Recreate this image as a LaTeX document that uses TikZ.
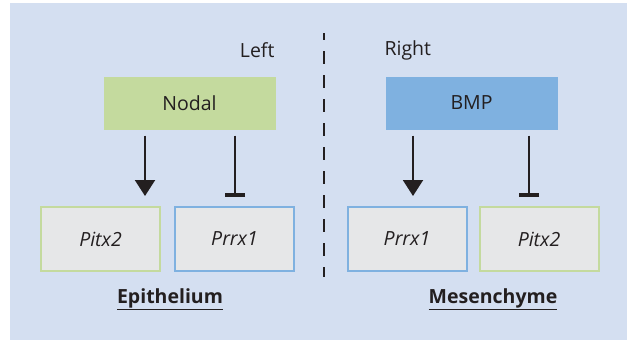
\documentclass[tikz,border=0pt]{standalone}
\usepackage{fontspec}
\setmainfont{Open Sans}
\usetikzlibrary{arrows.meta}

\definecolor{panelbg}{RGB}{212,223,241}
\definecolor{nodalgreen}{RGB}{196,218,158}
\definecolor{bmpblue}{RGB}{127,177,224}
\definecolor{genegray}{RGB}{230,231,232}
\definecolor{inkdark}{RGB}{35,31,32}

\begin{document}
\begin{tikzpicture}
  [x=1pt,y=-1pt,every node/.style={text=inkdark,font=\fontsize{19.5}{23}\selectfont},
   sig/.style={rectangle,inner sep=0,minimum width=172,minimum height=53},
   gene/.style={rectangle,inner sep=0,line width=2pt,fill=genegray,minimum width=119,minimum height=64,font=\fontsize{19.5}{23}\selectfont\itshape},
   act/.style={draw=inkdark,line width=2pt,shorten <=6pt,-{Triangle[width=20pt,length=16pt]}},
   inh/.style={draw=inkdark,line width=2pt,shorten <=6pt,-{Bar[width=20pt,line width=4pt]}}]
  \useasboundingbox (0,0) rectangle (627,340);
  \fill[panelbg] (10,3) rectangle (627,340);

  \node[anchor=east] (left)  at (278,50)   {Left};
  \node[anchor=west] (right) at (381,50)   {Right};
  \node[sig,fill=nodalgreen] (nodal) at (189.5,103) {Nodal};
  \node[sig,fill=bmpblue]    (bmp)   at (471.5,103) {BMP};
  \node[gene,draw=nodalgreen] (pitxl) at (100.5,239) {Pitx2};
  \node[gene,draw=bmpblue]    (prrxl) at (234.5,239) {Prrx1};
  \node[gene,draw=bmpblue]    (prrxr) at (407,239)   {Prrx1};
  \node[gene,draw=nodalgreen] (pitxr) at (539,239)   {Pitx2};
  \node[font=\fontsize{19.5}{23}\selectfont\bfseries] (epi) at (170,299) {\underline{Epithelium}};
  \node[font=\fontsize{19.5}{23}\selectfont\bfseries] (mes) at (493,299) {\underline{Mesenchyme}};

  \coordinate (t1) at (145,196);
  \coordinate (t2) at (235,197);
  \coordinate (t3) at (413,196);
  \coordinate (t4) at (529,197);
  \coordinate (d1) at (324,33);
  \coordinate (d2) at (324,277);

  \foreach \from/\to/\kind in {nodal/t1/act,nodal/t2/inh,bmp/t3/act,bmp/t4/inh}
    \draw[\kind] (\from.south -| \to) -- (\to);
  \draw[inkdark,line width=2.5pt,dash pattern=on 13pt off 11pt,dash phase=6pt] (d1) -- (d2);
\end{tikzpicture}
\end{document}
